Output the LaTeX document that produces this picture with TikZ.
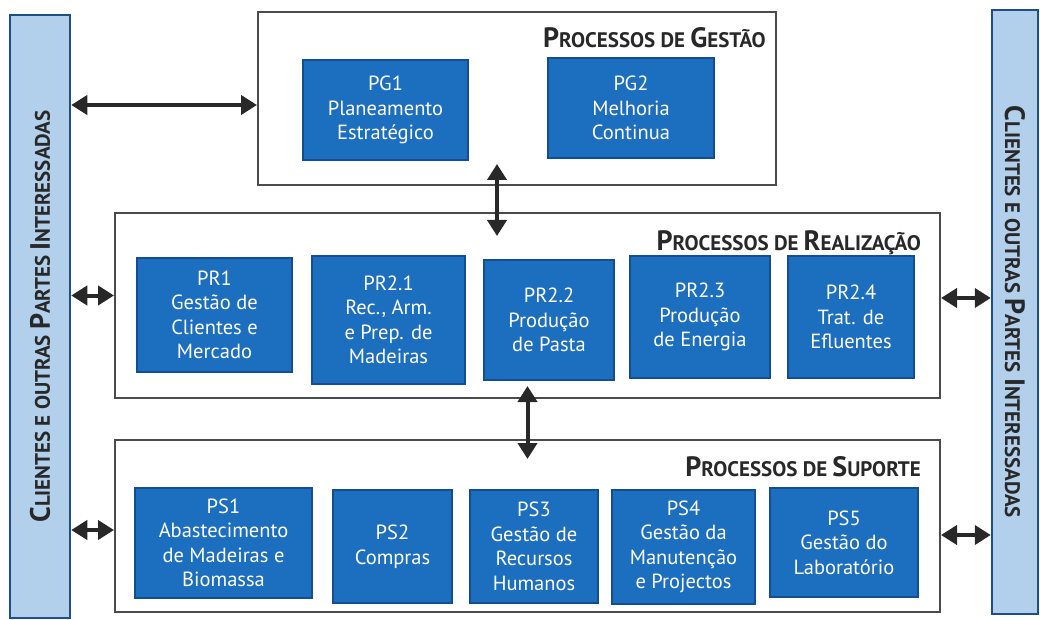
\documentclass[tikz,border=0pt]{standalone}
\usepackage{fontspec}
\setmainfont{PT Sans}
\usetikzlibrary{arrows.meta}

\definecolor{azulproc}{RGB}{28,110,190}
\definecolor{azulborda}{RGB}{18,78,145}
\definecolor{azulbarra}{RGB}{178,208,236}
\definecolor{bordabarra}{RGB}{30,78,138}
\definecolor{cinzacaixa}{RGB}{75,75,75}
\definecolor{textoescuro}{RGB}{40,40,40}

% fake small caps: first letter big, rest smaller
\newcommand{\capsc}[2]{{\fontsize{28}{28}\selectfont #1}{\fontsize{21}{21}\selectfont #2}}

\tikzset{
  proc/.style={draw=azulborda, line width=1.5pt, fill=azulproc, text=white,
    align=center, inner sep=2pt, font=\fontsize{20.5}{24.5}\selectfont},
  grupo/.style={draw=cinzacaixa, line width=2pt, fill=white},
  titulo/.style={text=textoescuro, inner sep=0pt, font=\fontsize{20}{20}\selectfont\bfseries},
  barra/.style={draw=bordabarra, line width=2.5pt, fill=azulbarra},
  seta/.style={line width=4pt, draw=textoescuro,
    {Triangle[length=16pt,width=19pt]}-{Triangle[length=16pt,width=19pt]}}
}

\begin{document}
\begin{tikzpicture}[x=1pt, y=-1pt]
  \useasboundingbox (0,0) rectangle (1040,620);

  % side bars
  \node[barra, minimum width=60pt, minimum height=603pt] (cliL) at (40,316.5) {};
  \node[titulo, rotate=90] (txtL) at (cliL.center) {\capsc{C}{LIENTES E OUTRAS} \capsc{P}{ARTES} \capsc{I}{NTERESSADAS}};
  \node[barra, minimum width=46pt, minimum height=604pt] (cliR) at (1015,312) {};
  \node[titulo, rotate=-90] (txtR) at (cliR.center) {\capsc{C}{LIENTES E OUTRAS} \capsc{P}{ARTES} \capsc{I}{NTERESSADAS}};

  % group boxes
  \node[grupo, minimum width=518pt, minimum height=173pt] (gestao) at (517,98.5) {};
  \node[grupo, minimum width=825pt, minimum height=185pt] (real) at (527.5,305.5) {};
  \node[grupo, minimum width=825pt, minimum height=172pt] (sup) at (527.5,526) {};

  \node[titulo, anchor=north east] (tgestao) at ([xshift=-11pt,yshift=-16pt]gestao.north east) {\capsc{P}{ROCESSOS DE} \capsc{G}{ESTÃO}};
  \node[titulo, anchor=north east] (treal) at ([xshift=-20pt,yshift=-18pt]real.north east) {\capsc{P}{ROCESSOS DE} \capsc{R}{EALIZAÇÃO}};
  \node[titulo, anchor=north east] (tsup) at ([xshift=-20pt,yshift=-17pt]sup.north east) {\capsc{P}{ROCESSOS DE} \capsc{S}{UPORTE}};

  % gestao
  \node[proc, minimum width=165pt, minimum height=100pt] (pg1) at (385.5,110) {PG1\\Planeamento\\Estratégico};
  \node[proc, minimum width=166pt, minimum height=100pt] (pg2) at (631,108) {PG2\\Melhoria\\Continua};

  % realizacao
  \node[proc, minimum width=155pt, minimum height=114pt] (pr1) at (214.5,315) {PR1\\Gestão de\\Clientes e\\Mercado};
  \node[proc, minimum width=153pt, minimum height=128pt] (pr21) at (388.5,320) {PR2.1\\Rec., Arm.\\e Prep. de\\Madeiras};
  \node[proc, minimum width=130pt, minimum height=120pt] (pr22) at (549,320) {PR2.2\\Produção\\de Pasta};
  \node[proc, minimum width=140pt, minimum height=122pt] (pr23) at (700,317) {PR2.3\\Produção\\de Energia};
  \node[proc, minimum width=126pt, minimum height=122pt] (pr24) at (851,317) {PR2.4\\Trat. de\\Efluentes};

  % suporte
  \node[proc, minimum width=177pt, minimum height=110pt] (ps1) at (223.5,543) {PS1\\Abastecimento\\de Madeiras e\\Biomassa};
  \node[proc, minimum width=119pt, minimum height=113pt] (ps2) at (392.5,546.5) {PS2\\Compras};
  \node[proc, minimum width=128pt, minimum height=113pt] (ps3) at (534,546.5) {PS3\\Gestão de\\Recursos\\Humanos};
  \node[proc, minimum width=143pt, minimum height=114pt] (ps4) at (683.5,547) {PS4\\Gestão da\\Manutenção\\e Projectos};
  \node[proc, minimum width=148pt, minimum height=109pt] (ps5) at (844,542.5) {PS5\\Gestão do\\Laboratório};

  % arrows
  \draw[seta] ([yshift=-6.5pt]gestao.west -| cliL.east) -- ([yshift=-6.5pt]gestao.west);
  \draw[seta] ([yshift=10pt]real.west -| cliL.east) -- ([yshift=10pt]real.west);
  \draw[seta] ([yshift=-4pt]sup.west -| cliL.east) -- ([yshift=-4pt]sup.west);
  \draw[seta] ([yshift=7.5pt]real.east) -- ([yshift=7.5pt]real.east -| cliR.west);
  \draw[seta] ([yshift=-9pt]sup.east) -- ([yshift=-9pt]sup.east -| cliR.west);
  \draw[seta, shorten <=-22pt, shorten >=-24pt] ([xshift=-20pt]gestao.south) -- ([xshift=-20pt]gestao.south |- real.north);
  \draw[seta, shorten <=-13pt, shorten >=-20pt] (real.south) -- (real.south |- sup.north);

\end{tikzpicture}
\end{document}
